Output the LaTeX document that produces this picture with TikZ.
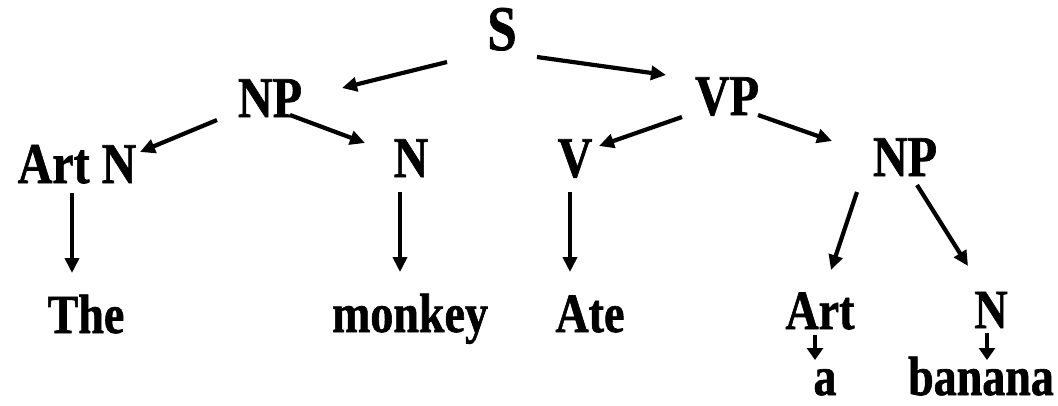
\documentclass[tikz,border=0pt]{standalone}
\usepackage{fontspec}
\setmainfont{Liberation Serif}[BoldFeatures={FakeBold=1.2}]
\usetikzlibrary{arrows.meta}

% slightly tall bold serif lettering
\newcommand{\tallword}[1]{\scalebox{1}[1.2]{#1}}

\begin{document}
\begin{tikzpicture}[x={(1pt,0)}, y={(0,-1pt)},
  cat/.style={anchor=base, inner sep=0pt, font=\fontsize{48}{52}\selectfont\bfseries},
  root/.style={anchor=base, inner sep=0pt, font=\fontsize{53}{56}\selectfont\bfseries},
  word/.style={anchor=base, inner sep=0pt, font=\fontsize{46}{50}\selectfont\bfseries},
  branch/.style={line width=4.2pt, -{Triangle[length=15pt,width=14pt]}},
  shortbranch/.style={line width=3.8pt, -{Triangle[length=12pt,width=16pt]}}]

\useasboundingbox (0,0) rectangle (1058,405);

% categories
\node[root] (S)    at (502,50)  {\tallword{S}};
\node[cat]  (np1)  at (270,117) {\tallword{NP}};
\node[cat]  (vp)   at (727,115) {\tallword{VP}};
\node[cat]  (artn) at (77,183)  {\tallword{Art N}};
\node[cat]  (n1)   at (411,177) {\tallword{N}};
\node[cat]  (v)    at (575,177) {\tallword{V}};
\node[cat]  (np2)  at (905,176) {\tallword{NP}};
\node[word] (art2) at (820,329) {\tallword{Art}};
\node[word] (n2)   at (991,328) {\tallword{N}};

% words
\node[word] (the)    at (86,333)  {\tallword{The}};
\node[word] (monkey) at (410,332) {\tallword{monkey}};
\node[word] (ate)    at (590,332) {\tallword{Ate}};
\node[word] (a)      at (825,395) {\tallword{a}};
\node[word] (banana) at (981,395) {\tallword{banana}};

% branches
\draw[branch] ([shift={(-55,12)}]S.base)   -- ([shift={(72,-29)}]np1.base);
\draw[branch] ([shift={(35,7)}]S.base)     -- ([shift={(-61,-40)}]vp.base);
\draw[branch] ([shift={(-53,3)}]np1.base)  -- ([shift={(63,-31)}]artn.base);
\draw[branch] ([shift={(20,-2)}]np1.base)  -- ([shift={(-46,-34)}]n1.base);
\draw[branch] ([shift={(-45,2)}]vp.base)   -- ([shift={(24,-31)}]v.base);
\draw[branch] ([shift={(31,0)}]vp.base)    -- ([shift={(-73,-35)}]np2.base);
\draw[branch] ([shift={(-48,16)}]np2.base) -- ([shift={(11,-59)}]art2.base);
\draw[branch] ([shift={(12,9)}]np2.base)   -- ([shift={(-23,-62)}]n2.base);

% lexical arrows
\draw[branch] ([shift={(-5,10)}]artn.base) -- ([shift={(-14,-60)}]the.base);
\draw[branch] ([shift={(-11,15)}]n1.base)  -- ([shift={(-10,-60)}]monkey.base);
\draw[branch] ([shift={(-5,15)}]v.base)    -- ([shift={(-20,-60)}]ate.base);
\draw[shortbranch] ([shift={(-5,6)}]art2.base) -- ([shift={(-10,-35)}]a.base);
\draw[shortbranch] ([shift={(-4,5)}]n2.base)   -- ([shift={(6,-35)}]banana.base);

\end{tikzpicture}
\end{document}
